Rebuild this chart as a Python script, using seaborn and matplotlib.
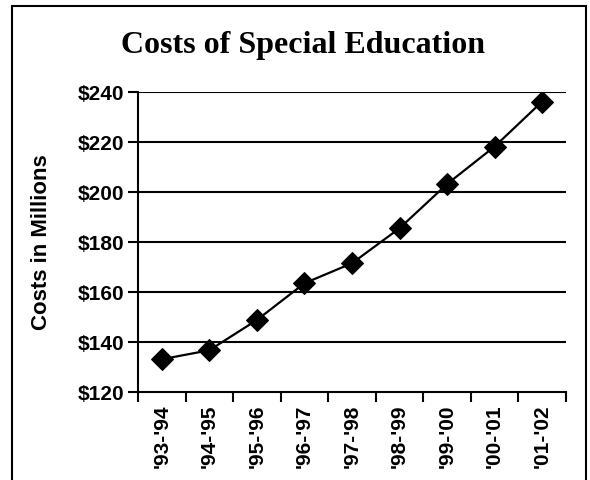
import numpy as np
import pandas as pd
import matplotlib
matplotlib.use("Agg")
import matplotlib.pyplot as plt
from matplotlib.patches import Rectangle
from matplotlib.ticker import FixedLocator
import seaborn as sns

years = ["'93-'94", "'94-'95", "'95-'96", "'96-'97", "'97-'98",
         "'98-'99", "'99-'00", "'00-'01", "'01-'02"]
costs = [133.1, 136.7, 148.8, 163.5, 171.5, 185.5, 203.2, 218.2, 236.2]
y_ticks = [120, 140, 160, 180, 200, 220, 240]

df = pd.DataFrame({"pos": np.arange(len(years)), "cost": costs})

sns.set_style("white")
plt.rcParams["font.family"] = ["Liberation Sans", "DejaVu Sans"]
plt.rcParams["text.color"] = "black"
plt.rcParams["axes.labelcolor"] = "black"
plt.rcParams["xtick.color"] = "black"
plt.rcParams["ytick.color"] = "black"

fig = plt.figure(figsize=(5.9, 4.8), dpi=100)
ax = fig.add_axes([138 / 590, 1 - 392 / 480, 428 / 590, 300 / 480])

sns.lineplot(data=df, x="pos", y="cost", ax=ax, color="black", linewidth=1.6,
             marker="D", markersize=11, markeredgecolor="black",
             markerfacecolor="black", zorder=3)

ax.set_xlim(-0.5, len(years) - 0.5)
ax.set_ylim(120, 240)

# horizontal gridlines
for v in y_ticks[1:]:
    ax.axhline(v, color="black", lw=1.5, zorder=1)

ax.set_yticks(y_ticks)
ax.set_yticklabels([f"${v}" for v in y_ticks], fontsize=15, fontweight="bold")
ax.set_xticks(np.arange(len(years)))
ax.set_xticklabels(years, rotation=90, fontsize=15, fontweight="bold")
ax.xaxis.set_minor_locator(FixedLocator(np.arange(-0.5, len(years), 1.0)))
ax.tick_params(axis="x", which="major", length=0, pad=9)
ax.tick_params(axis="x", which="minor", length=7, width=1.5, color="black", direction="out", bottom=True)
ax.tick_params(axis="y", length=7, width=1.5, color="black", direction="out", left=True, pad=3)

for s in ["top", "right"]:
    ax.spines[s].set_visible(False)
for s in ["left", "bottom"]:
    ax.spines[s].set_color("black")
    ax.spines[s].set_linewidth(1.5)

ax.set_xlabel("")
ax.set_ylabel("Costs in Millions", fontsize=16, fontweight="bold")
ax.yaxis.set_label_coords(-0.2, 0.5)

fig.text(0.514, 1 - 45 / 480, "Costs of Special Education", ha="center", va="center",
         fontsize=23, fontweight="bold", family=["Liberation Serif", "DejaVu Serif"])

fig.patches.append(Rectangle((12 / 590, -0.01), 574 / 590, 1.01 - 6 / 480,
                             transform=fig.transFigure, fill=False,
                             edgecolor="black", lw=1.5))

fig.savefig("out.png", dpi=100)
